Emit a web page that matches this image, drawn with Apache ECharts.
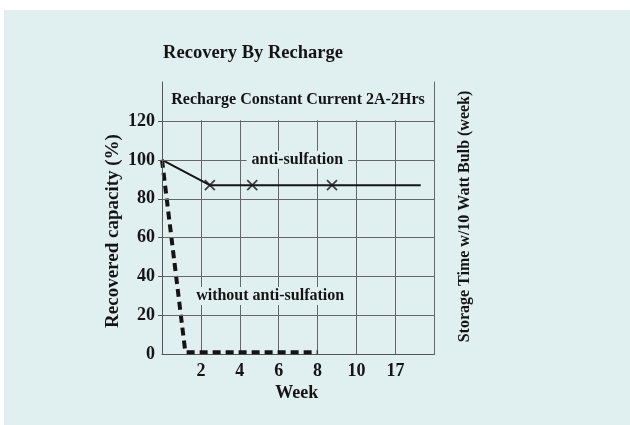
<!DOCTYPE html>
<html>
<head>
<meta charset="utf-8">
<script src="https://cdn.jsdelivr.net/npm/echarts@6/dist/echarts.min.js"></script>
<style>
  html, body { margin: 0; padding: 0; background: #ffffff; }
  #chart { position: absolute; left: 4px; top: 10px; width: 626px; height: 415px; background: #e0f0f0; }
</style>
</head>
<body>
<div id="chart"></div>
<script>
// Tick labels along the storage-time axis (placed at positions 1..6)
const weekLabels = ['2', '4', '6', '8', '10', '17'];
const capacityTicks = [20, 40, 60, 80, 100, 120];

// Recovered capacity with anti-sulfation: [axis position, %]
const antiSulfation = [[0, 100], [1.23, 87], [2.32, 87], [4.37, 87], [6.65, 87]];
const antiSulfationMarks = [[1.23, 87], [2.32, 87], [4.37, 87]];

// Recovered capacity without anti-sulfation
const withoutAntiSulfation = [[0, 100], [0.6, 1.2], [4.0, 1.2]];

const ink = '#161314';
const bg = '#e0f0f0';
const serif = '"Liberation Serif", "DejaVu Serif", serif';

const chart = echarts.init(document.getElementById('chart'));

function label(text, x, y, size, rotate) {
  return {
    type: 'text', x: x, y: y, rotation: rotate ? Math.PI / 2 : 0, z: 10,
    style: { text: text, fill: ink, font: 'bold ' + size + 'px ' + serif,
             textAlign: 'center', textVerticalAlign: 'middle' }
  };
}

chart.setOption({
  animation: false,
  grid: { left: 158, top: 72, right: 195.7, bottom: 70.5 },
  xAxis: {
    type: 'value', min: 0, max: 7, interval: 1,
    axisLine: { show: true, lineStyle: { color: '#555', width: 1 } },
    axisTick: { show: false },
    splitLine: { show: true, lineStyle: { color: '#666', width: 1 } },
    axisLabel: {
      margin: 8, color: ink, fontFamily: serif, fontWeight: 'bold', fontSize: 18,
      formatter: v => weekLabels[v - 1] || ''
    }
  },
  yAxis: [{
    type: 'value', min: 0, max: 140, interval: 20, z: 5,
    axisLine: { show: true, lineStyle: { color: '#555', width: 1 } },
    axisTick: { show: true, length: 4, customValues: capacityTicks, lineStyle: { color: '#555' } },
    splitLine: { show: true, lineStyle: { color: '#666', width: 1 } },
    axisLabel: {
      margin: 7, color: ink, fontFamily: serif, fontWeight: 'bold', fontSize: 18,
      formatter: v => (v === 140 ? '' : String(v))
    }
  }, {
    type: 'value', min: 0, max: 140, interval: 20, position: 'right', z: 5,
    axisLine: { show: true, lineStyle: { color: '#666', width: 1 } },
    axisTick: { show: false }, axisLabel: { show: false }, splitLine: { show: false }
  }],
  graphic: [
    label('Recovery By Recharge', 249, 43, 18.5, false),
    label('Recharge Constant Current 2A-2Hrs', 294, 90, 16, false),
    label('Recovered capacity (%)', 108.7, 221, 19, true),
    label('Storage Time w/10 Watt Bulb (week)', 460.5, 206.5, 16, true),
    label('Week', 292.7, 383, 18, false)
  ],
  series: [
    {
      type: 'line', data: antiSulfation, showSymbol: false, z: 3,
      lineStyle: { color: ink, width: 2 },
      // title band above the 120 line is kept clear of the vertical grid
      markArea: {
        silent: true,
        itemStyle: { color: bg },
        data: [[{ coord: [0, 120.3] }, { coord: [7, 140] }]]
      },
      markPoint: {
        symbolSize: 0, silent: true,
        label: {
          show: true, color: ink, fontFamily: serif, fontWeight: 'bold', fontSize: 16,
          backgroundColor: bg, padding: [1, 5], formatter: p => p.name
        },
        data: [{ name: 'anti-sulfation', coord: [3.48, 100] }]
      }
    },
    {
      type: 'scatter', data: antiSulfationMarks, z: 4,
      symbol: 'path://M0,0L10,10M10,0L0,10', symbolSize: 10,
      itemStyle: { color: 'none', borderColor: ink, borderWidth: 1.8 }
    },
    {
      type: 'line', data: withoutAntiSulfation, showSymbol: false, z: 3,
      lineStyle: { color: ink, width: 4, type: [8, 5] },
      markPoint: {
        symbolSize: 0, silent: true,
        label: {
          show: true, color: ink, fontFamily: serif, fontWeight: 'bold', fontSize: 16,
          backgroundColor: bg, padding: [1, 5], formatter: p => p.name
        },
        data: [{ name: 'without anti-sulfation', coord: [2.78, 30] }]
      }
    }
  ]
});
</script>
</body>
</html>
